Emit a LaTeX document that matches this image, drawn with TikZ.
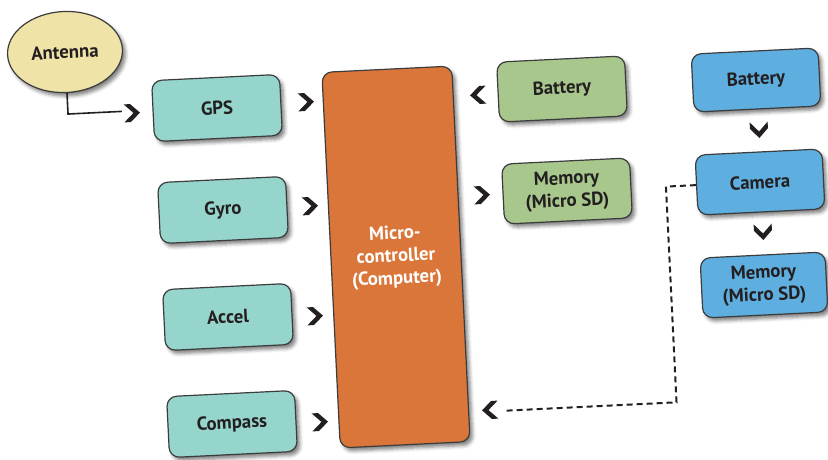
\documentclass[tikz,border=0pt]{standalone}
\usepackage{fontspec}
\setmainfont{PT Sans}
\usetikzlibrary{shapes.geometric,shadows.blur}
\definecolor{ink}{HTML}{231F20}
\definecolor{edgecol}{HTML}{3C3C3C}
\definecolor{antfill}{HTML}{EFE3A8}
\definecolor{sensfill}{HTML}{96D5CC}
\definecolor{mcufill}{HTML}{DA763A}
\definecolor{greenfill}{HTML}{A8C78D}
\definecolor{bluefill}{HTML}{5FAEE0}
\tikzset{
  boxbase/.style={draw=edgecol, line width=1.2pt, rounded corners=10pt, rotate=2.8,
    align=center, text=ink, font=\bfseries\fontsize{18.8}{22.5}\selectfont,
    blur shadow={shadow xshift=3pt, shadow yshift=-3.5pt, shadow opacity=50, shadow blur radius=3.5pt}},
  sensbox/.style={boxbase, fill=sensfill, minimum width=128pt, minimum height=61pt},
  greenbox/.style={boxbase, fill=greenfill, minimum width=128pt, minimum height=60pt},
  bluebox/.style={boxbase, fill=bluefill, minimum width=127pt, minimum height=58pt},
  chev/.pic={\fill[ink] (-8,-9) -- (-1.5,-9) -- (8,0) -- (-1.5,9) -- (-8,9) -- (1.5,0) -- cycle;}
}
\begin{document}
\begin{tikzpicture}[x=1pt,y=-1pt]
\useasboundingbox (0,0) rectangle (828,459);
% nodes
\node[ellipse, draw=edgecol, line width=1.2pt, fill=antfill, rotate=2.8,
  minimum width=115pt, minimum height=81pt, text=ink, inner sep=0pt,
  font=\bfseries\fontsize{18.8}{22.5}\selectfont,
  blur shadow={shadow xshift=3pt, shadow yshift=-3.5pt, shadow opacity=50, shadow blur radius=3.5pt}]
  (ant) at (65,52) {Antenna};
\node[sensbox] (gps) at (217,108) {GPS};
\node[sensbox] (gyro) at (223,210) {Gyro};
\node[sensbox] (accel) at (228,317) {Accel};
\node[sensbox] (compass) at (232,424) {Compass};
\node[boxbase, fill=mcufill, text=white, minimum width=130pt, minimum height=376pt] (mcu) at (396,257) {Micro-\\controller\\(Computer)};
\node[greenbox] (batg) at (562,89) {Battery};
\node[greenbox] (memg) at (567,191) {Memory\\(Micro SD)};
\node[bluebox] (batb) at (756,80) {Battery};
\node[bluebox, minimum height=60pt] (cam) at (760,182) {Camera};
\node[bluebox, minimum width=125pt, minimum height=60pt] (memb) at (764,285) {Memory\\(Micro SD)};
% chevrons
\pic[rotate=2.8] at (132,113) {chev};
\pic[rotate=2.8] at (306,102) {chev};
\pic[rotate=2.8] at (310,206) {chev};
\pic[rotate=2.8] at (315,316) {chev};
\pic[rotate=2.8] at (320,422) {chev};
\pic[rotate=182.8] at (478,95) {chev};
\pic[rotate=2.8] at (482,195) {chev};
\pic[rotate=-87.2] at (759,130) {chev};
\pic[rotate=-87.2] at (763,232) {chev};
\pic[rotate=182.8] at (490,410) {chev};
% connectors
\draw[ink, line width=1.6pt, rotate=2.8] (ant.south) -- ++(0,21) -- ++(54,0);
\draw[ink, line width=2pt, dash pattern=on 6pt off 4pt, rotate=2.8]
  (cam.west) -- ++(-30,0) -- ++(0,216) -- ++(-171,0);
\end{tikzpicture}
\end{document}
